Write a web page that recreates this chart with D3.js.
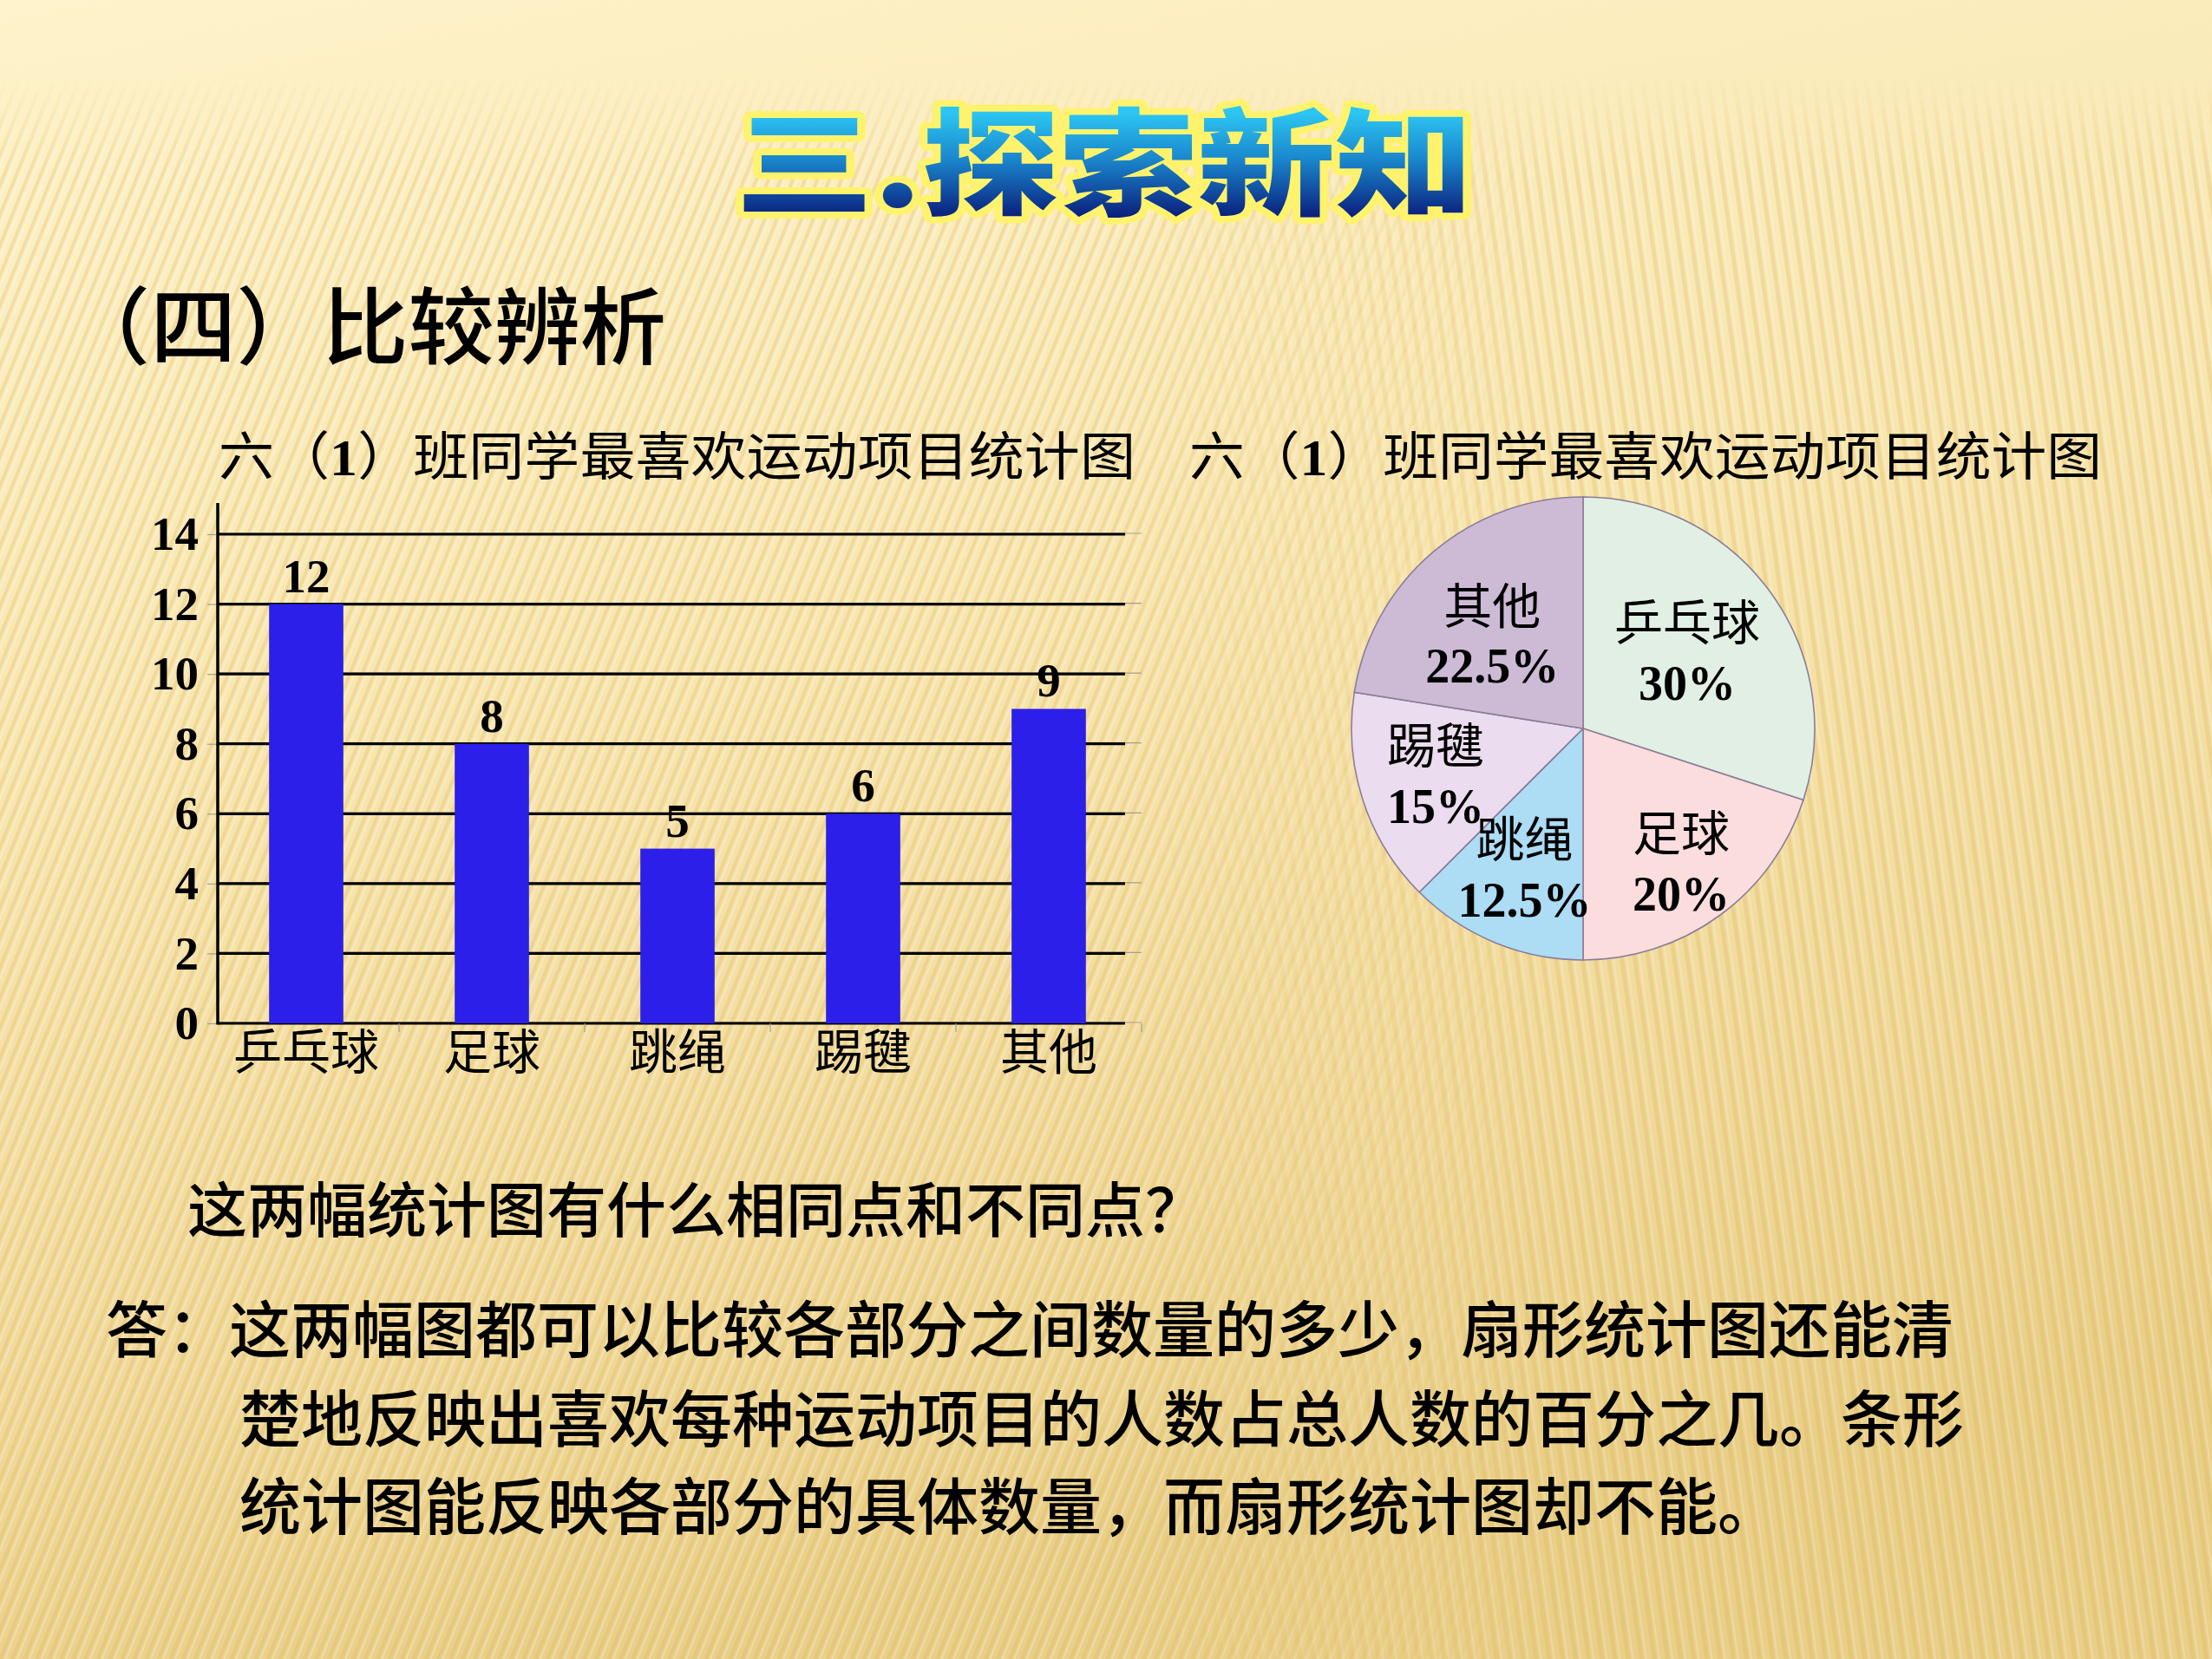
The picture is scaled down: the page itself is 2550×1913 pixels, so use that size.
<!DOCTYPE html>
<html>
<head>
<meta charset="utf-8">
<script src="https://cdn.jsdelivr.net/npm/d3@7"></script>
<style>
  html, body { margin: 0; padding: 0; background: #fdf0c8; }
  svg { display: block; }
</style>
</head>
<body>
<svg id="chart" width="2550" height="1913"></svg>
<script>
// ---------------- data ----------------
const categories = ["乒乓球", "足球", "跳绳", "踢毽", "其他"];
const counts = [12, 8, 5, 6, 9];
const yTicks = [0, 2, 4, 6, 8, 10, 12, 14];
const pieCategories = ["乒乓球", "足球", "跳绳", "踢毽", "其他"];
const piePercents = [30, 20, 12.5, 15, 22.5];
const pieLabelsPct = ["30%", "20%", "12.5%", "15%", "22.5%"];
const pageTitle = "三.探索新知";
const sectionTitle = "（四）比较辨析";
const chartTitleA = "六（";
const chartTitleNum = "1";
const chartTitleB = "）班同学最喜欢运动项目统计图";
const questionText = "这两幅统计图有什么相同点和不同点？";
const answerLines = [
  "答：这两幅图都可以比较各部分之间数量的多少，扇形统计图还能清",
  "楚地反映出喜欢每种运动项目的人数占总人数的百分之几。条形",
  "统计图能反映各部分的具体数量，而扇形统计图却不能。"
];

// ---------------- styles ----------------
const pieColors = ["#e1efe4", "#fbdddd", "#addcf5", "#ecdcef", "#cdbbd6"];
const pieLabelFactor = [0.556, 0.72, 0.66, 0.67, 0.56];
const pieLabelAngleShift = [0, 0, 0, 0, -0.07];
const CJK = "'Noto Sans CJK SC', 'Noto Sans CJK JP', sans-serif";
const SERIF = "'Liberation Serif', 'DejaVu Serif', serif";

const svg = d3.select("#chart");
const defs = svg.append("defs");

// ---- background ----
const bg = defs.append("linearGradient").attr("id", "bgGrad")
  .attr("x1", 0).attr("y1", 0).attr("x2", 0.25).attr("y2", 1);
[[0, "#fef3cc"], [0.08, "#fdf0c5"], [0.45, "#f8e6b0"], [0.8, "#f0d99a"], [1, "#e9cf88"]]
  .forEach(([o, c]) => bg.append("stop").attr("offset", o).attr("stop-color", c));

const patL = defs.append("pattern").attr("id", "stripesL").attr("patternUnits", "userSpaceOnUse")
  .attr("width", 13).attr("height", 40).attr("patternTransform", "rotate(22)");
patL.append("rect").attr("x", 0).attr("y", 0).attr("width", 4).attr("height", 40).attr("fill", "#d9b45a").attr("opacity", 0.28);
patL.append("rect").attr("x", 6).attr("y", 0).attr("width", 2).attr("height", 40).attr("fill", "#ffffff").attr("opacity", 0.25);

const patR = defs.append("pattern").attr("id", "stripesR").attr("patternUnits", "userSpaceOnUse")
  .attr("width", 15).attr("height", 40).attr("patternTransform", "rotate(-8)");
patR.append("rect").attr("x", 0).attr("y", 0).attr("width", 5).attr("height", 40).attr("fill", "#d9b45a").attr("opacity", 0.28);
patR.append("rect").attr("x", 7).attr("y", 0).attr("width", 2).attr("height", 40).attr("fill", "#ffffff").attr("opacity", 0.22);

const fadeV = defs.append("linearGradient").attr("id", "fadeV").attr("gradientUnits", "userSpaceOnUse")
  .attr("x1", 0).attr("y1", 90).attr("x2", 0).attr("y2", 200);
fadeV.append("stop").attr("offset", 0).attr("stop-color", "#fff").attr("stop-opacity", 0);
fadeV.append("stop").attr("offset", 1).attr("stop-color", "#fff").attr("stop-opacity", 1);

const maskL = defs.append("mask").attr("id", "maskL");
const gl = defs.append("linearGradient").attr("id", "gradL").attr("gradientUnits", "userSpaceOnUse")
  .attr("x1", 1300).attr("y1", 0).attr("x2", 1800).attr("y2", 0);
gl.append("stop").attr("offset", 0).attr("stop-color", "#fff");
gl.append("stop").attr("offset", 1).attr("stop-color", "#000");
const maskR = defs.append("mask").attr("id", "maskR");
const gr = defs.append("linearGradient").attr("id", "gradR").attr("gradientUnits", "userSpaceOnUse")
  .attr("x1", 1300).attr("y1", 0).attr("x2", 1800).attr("y2", 0);
gr.append("stop").attr("offset", 0).attr("stop-color", "#000");
gr.append("stop").attr("offset", 1).attr("stop-color", "#fff");
const vmask = defs.append("mask").attr("id", "vmask");
vmask.append("rect").attr("width", 2550).attr("height", 1913).attr("fill", "url(#fadeV)");
maskL.append("rect").attr("width", 2550).attr("height", 1913).attr("fill", "url(#gradL)");
maskR.append("rect").attr("width", 2550).attr("height", 1913).attr("fill", "url(#gradR)");

svg.append("rect").attr("width", 2550).attr("height", 1913).attr("fill", "url(#bgGrad)");
const stripeG = svg.append("g").attr("mask", "url(#vmask)");
stripeG.append("rect").attr("width", 2550).attr("height", 1913).attr("fill", "url(#stripesL)").attr("mask", "url(#maskL)");
stripeG.append("rect").attr("width", 2550).attr("height", 1913).attr("fill", "url(#stripesR)").attr("mask", "url(#maskR)");

// ---- page title ----
const tg = defs.append("linearGradient").attr("id", "titleGrad").attr("gradientUnits", "userSpaceOnUse")
  .attr("x1", 0).attr("y1", 130).attr("x2", 0).attr("y2", 250);
[[0, "#2cc6f2"], [0.45, "#1a86cc"], [1, "#0a1f7c"]]
  .forEach(([o, c]) => tg.append("stop").attr("offset", o).attr("stop-color", c));

svg.append("text")
  .attr("x", 1273).attr("y", 238)
  .attr("text-anchor", "middle")
  .attr("textLength", 850).attr("lengthAdjust", "spacingAndGlyphs")
  .style("font-family", CJK).style("font-weight", 900).style("font-size", "134px")
  .attr("fill", "url(#titleGrad)")
  .attr("stroke", "#fff36e").attr("stroke-width", 16).attr("stroke-linejoin", "round")
  .style("paint-order", "stroke")
  .text(pageTitle);

// ---- section title ----
svg.append("text")
  .attr("x", 74).attr("y", 412)
  .attr("textLength", 694).attr("lengthAdjust", "spacingAndGlyphs")
  .style("font-family", CJK).style("font-weight", 500).style("font-size", "97px")
  .attr("fill", "#000")
  .text(sectionTitle);

// ---- chart titles ----
function chartTitle(x, len) {
  const t = svg.append("text")
    .attr("x", x).attr("y", 548)
    .attr("textLength", len).attr("lengthAdjust", "spacingAndGlyphs")
    .style("font-family", CJK).style("font-weight", 400).style("font-size", "60px")
    .attr("fill", "#000");
  t.append("tspan").text(chartTitleA);
  t.append("tspan").style("font-family", SERIF).style("font-weight", 700).text(chartTitleNum);
  t.append("tspan").text(chartTitleB);
}
chartTitle(252, 1057);
chartTitle(1371, 1052);

// ---------------- bar chart ----------------
const axisX = 251, plotRight = 1297, extRight = 1316;
const x = d3.scaleBand().domain(categories).range([246, 1316]).padding(0);
const y = d3.scaleLinear().domain([0, 14]).range([1180, 616]);
const barW = x.bandwidth() * 0.4;

const bar = svg.append("g");

bar.selectAll(".gridGray").data(yTicks).join("line")
  .attr("x1", axisX).attr("x2", extRight)
  .attr("y1", d => y(d) - 1).attr("y2", d => y(d) - 1)
  .attr("stroke", "#a79f8a").attr("stroke-width", 1.2);
bar.selectAll(".gridBlack").data(yTicks).join("line")
  .attr("x1", axisX).attr("x2", plotRight)
  .attr("y1", d => y(d)).attr("y2", d => y(d))
  .attr("stroke", "#000").attr("stroke-width", 3.2);

bar.selectAll(".bar").data(categories).join("rect")
  .attr("x", d => x(d) + (x.bandwidth() - barW) / 2)
  .attr("y", (d, i) => y(counts[i]))
  .attr("width", barW)
  .attr("height", (d, i) => y(0) - y(counts[i]))
  .attr("fill", "#2b1fe9");

bar.selectAll(".val").data(categories).join("text")
  .attr("x", d => x(d) + x.bandwidth() / 2)
  .attr("y", (d, i) => y(counts[i]) - 14)
  .attr("text-anchor", "middle")
  .style("font-family", SERIF).style("font-weight", 700).style("font-size", "55px")
  .text((d, i) => counts[i]);

const yAxis = bar.append("g").attr("transform", `translate(${axisX},0)`)
  .call(d3.axisLeft(y).tickValues(yTicks).tickSize(12).tickPadding(10));
yAxis.select(".domain").remove();
yAxis.selectAll(".tick line").attr("stroke", "#a79f8a").attr("stroke-width", 1.2);
yAxis.selectAll(".tick text")
  .attr("fill", "#000")
  .style("font-family", SERIF).style("font-weight", 700).style("font-size", "55px");

bar.append("line")
  .attr("x1", axisX).attr("x2", axisX)
  .attr("y1", 580).attr("y2", y(0) + 1.5)
  .attr("stroke", "#000").attr("stroke-width", 3.5);

const xAxis = bar.append("g").attr("transform", `translate(0,${y(0)})`)
  .call(d3.axisBottom(x).tickSize(0));
xAxis.select(".domain").remove();
xAxis.selectAll(".tick text")
  .attr("y", 33).attr("dy", "0.36em")
  .attr("fill", "#000")
  .style("font-family", CJK).style("font-weight", 400).style("font-size", "56px");

bar.selectAll(".sep").data(categories).join("line")
  .attr("x1", d => x(d) + x.bandwidth()).attr("x2", d => x(d) + x.bandwidth())
  .attr("y1", y(0)).attr("y2", y(0) + 10)
  .attr("stroke", "#a79f8a").attr("stroke-width", 1.2);

// ---------------- pie chart ----------------
const cx = 1825, cy = 840, R = 267;
const pieData = d3.pie().sort(null).value(d => d)(piePercents);
const arc = d3.arc().innerRadius(0).outerRadius(R);
const pg = svg.append("g").attr("transform", `translate(${cx},${cy})`);

pg.selectAll("path").data(pieData).join("path")
  .attr("d", arc)
  .attr("fill", (d, i) => pieColors[i])
  .attr("stroke", "#8b7e98").attr("stroke-width", 1.6);

pieData.forEach((d, i) => {
  const r = R * pieLabelFactor[i];
  const shifted = { startAngle: d.startAngle + pieLabelAngleShift[i], endAngle: d.endAngle + pieLabelAngleShift[i] };
  const c = d3.arc().innerRadius(r).outerRadius(r).centroid(shifted);
  pg.append("text")
    .attr("x", c[0]).attr("y", c[1] - 35).attr("dy", "0.36em")
    .attr("text-anchor", "middle")
    .style("font-family", CJK).style("font-weight", 400).style("font-size", "56px")
    .text(pieCategories[i]);
  pg.append("text")
    .attr("x", c[0]).attr("y", c[1] + 35).attr("dy", "0.34em")
    .attr("text-anchor", "middle")
    .style("font-family", SERIF).style("font-weight", 700).style("font-size", "56px")
    .text(pieLabelsPct[i]);
});

// ---------------- bottom text ----------------
svg.append("text")
  .attr("x", 216).attr("y", 1421)
  .style("font-family", CJK).style("font-weight", 500).style("font-size", "69px")
  .text(questionText);

const answerX = [122, 276, 276];
const answerY = [1559, 1662, 1763];
answerLines.forEach((t, i) => {
  svg.append("text")
    .attr("x", answerX[i]).attr("y", answerY[i])
    .style("font-family", CJK).style("font-weight", 500).style("font-size", "71px")
    .text(t);
});
</script>
</body>
</html>
